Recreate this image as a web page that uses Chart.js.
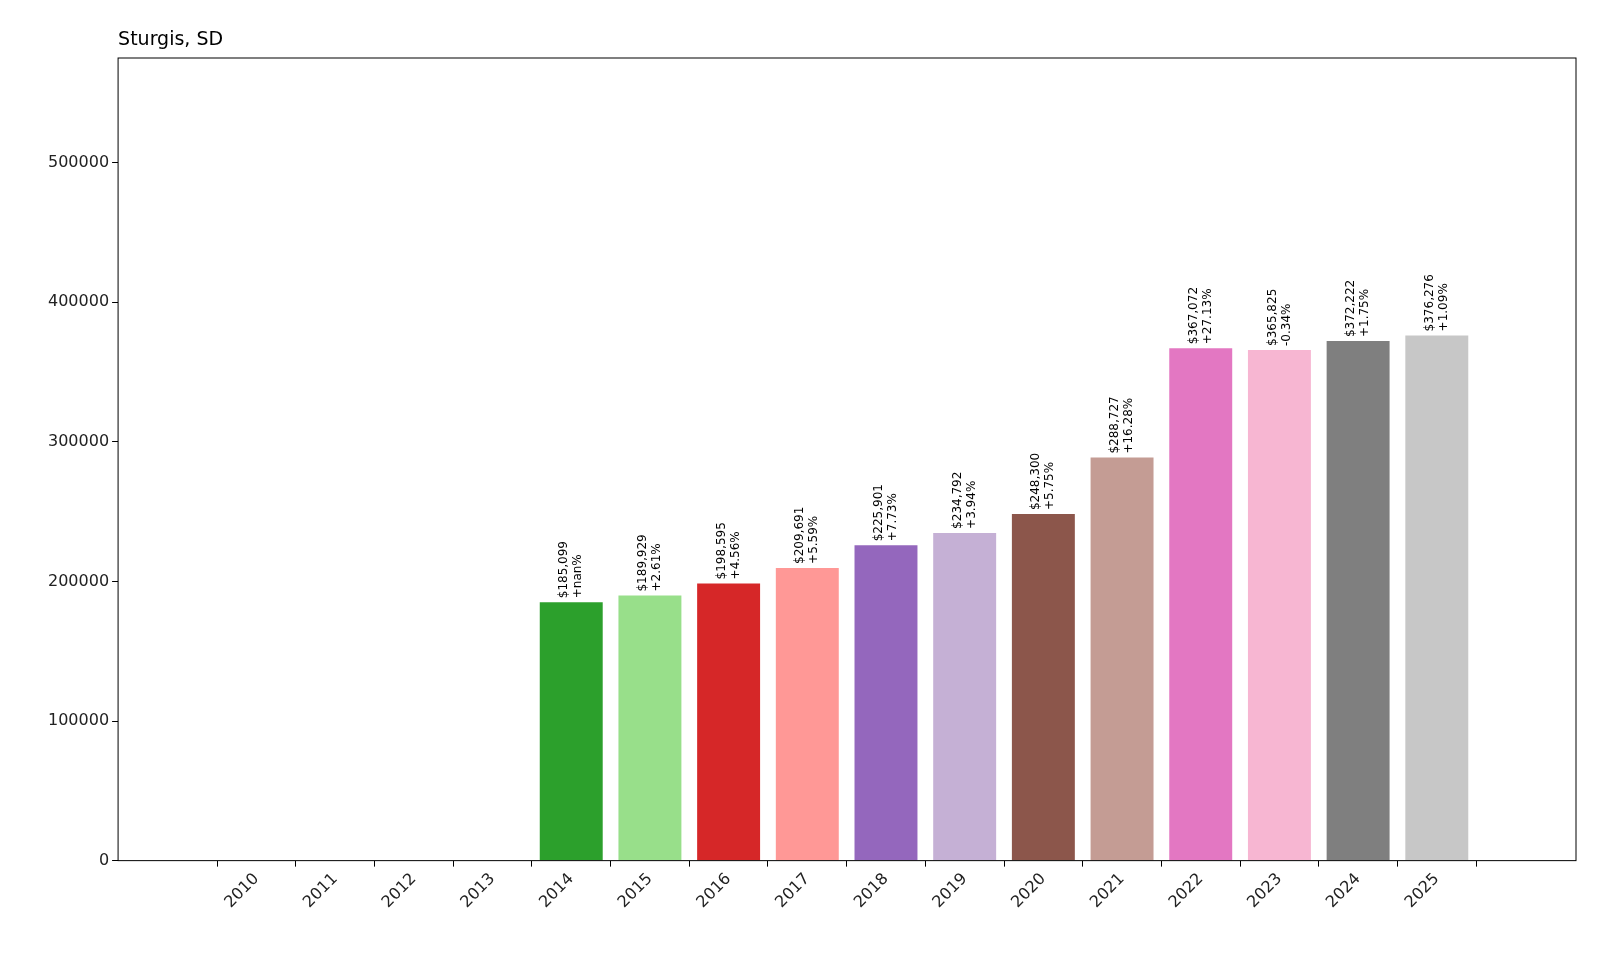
<!DOCTYPE html>
<html>
<head>
<meta charset="utf-8">
<script src="https://cdn.jsdelivr.net/npm/chart.js@4"></script>
<style>
  body { margin: 0; background: #fff; }
  #wrap { width: 1600px; height: 960px; }
</style>
</head>
<body>
<div id="wrap"><canvas id="chart" width="1600" height="960"></canvas></div>
<script>
// dữ liệu
const years = [2010, 2011, 2012, 2013, 2014, 2015, 2016, 2017, 2018, 2019, 2020, 2021, 2022, 2023, 2024, 2025];
const values = [0, 0, 0, 0, 185099, 189929, 198595, 209691, 225901, 234792, 248300, 288727, 367072, 365825, 372222, 376276];
const changes = ["", "", "", "", "+nan%", "+2.61%", "+4.56%", "+5.59%", "+7.73%", "+3.94%", "+5.75%", "+16.28%", "+27.13%", "-0.34%", "+1.75%", "+1.09%"];
const colors = ["#1f77b4", "#aec7e8", "#ff7f0e", "#ffbb78", "#2ca02c", "#98df8a", "#d62728", "#ff9896",
  "#9467bd", "#c5b0d5", "#8c564b", "#c49c94", "#e377c2", "#f7b6d2", "#7f7f7f", "#c7c7c7"];
const yTicks = [0, 100000, 200000, 300000, 400000, 500000];

const FONT = "'DejaVu Sans', sans-serif";

// khung + nhãn trên cột
const extras = {
  id: "extras",
  afterDraw(chart) {
    const c = chart.ctx, a = chart.chartArea;
    c.save();
    c.strokeStyle = "#000";
    c.lineWidth = 1;
    c.strokeRect(a.left, a.top, a.right - a.left, a.bottom - a.top);

    c.fillStyle = "#000";
    c.font = "19px " + FONT;
    c.textAlign = "left";
    c.textBaseline = "bottom";
    c.fillText("Sturgis, SD", a.left, a.top - 8);

    c.font = "12px " + FONT;
    const meta = chart.getDatasetMeta(0);
    meta.data.forEach((bar, i) => {
      if (!values[i]) return;
      c.save();
      c.translate(bar.x, bar.y - 4);
      c.rotate(-Math.PI / 2);
      c.textAlign = "left";
      c.textBaseline = "middle";
      c.fillText("$" + values[i].toLocaleString("en-US"), 0, -7);
      c.fillText(changes[i], 0, 7);
      c.restore();
    });
    c.restore();
  }
};

const tickGrid = { display: true, drawOnChartArea: false, drawTicks: true, tickLength: 6, color: "#000" };

new Chart(document.getElementById("chart"), {
  type: "bar",
  data: {
    datasets: [{
      data: years.map((y, i) => ({ x: y, y: values[i] })),
      backgroundColor: colors,
      barPercentage: 0.8,
      categoryPercentage: 1.0
    }]
  },
  options: {
    responsive: false,
    animation: false,
    layout: { padding: { top: 58, right: 24, left: 45, bottom: 45 } },
    plugins: { legend: { display: false }, tooltip: { enabled: false } },
    scales: {
      x: {
        type: "linear",
        min: 2008.82,
        max: 2026.19,
        afterBuildTicks: (s) => { s.ticks = years.map(v => ({ value: v })); },
        grid: tickGrid,
        border: { display: false },
        ticks: {
          color: "#222",
          font: { size: 16, family: FONT },
          maxRotation: 45, minRotation: 45,
          callback: (v) => String(v)
        }
      },
      y: {
        min: 0,
        max: 575000,
        afterBuildTicks: (s) => { s.ticks = yTicks.map(v => ({ value: v })); },
        grid: tickGrid,
        border: { display: false },
        ticks: { color: "#222", font: { size: 16, family: FONT }, callback: (v) => String(v) }
      }
    }
  },
  plugins: [extras]
});
</script>
</body>
</html>
